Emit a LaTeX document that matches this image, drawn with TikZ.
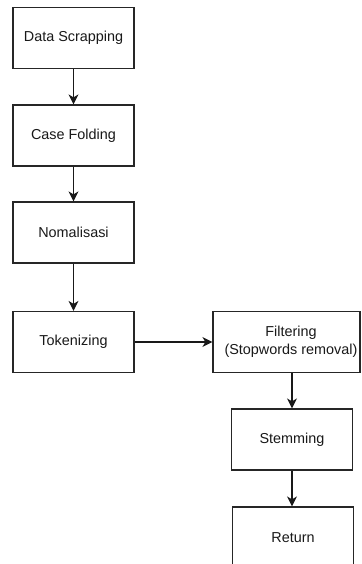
\documentclass[tikz,border=0pt]{standalone}
\usepackage{fontspec}
\setmainfont{Liberation Sans}
\usetikzlibrary{arrows.meta}
\begin{document}
\begin{tikzpicture}[x=1pt,y=-1pt,
  stepbox/.style={draw=black!85, line width=1.2pt, fill=white, minimum width=121pt, minimum height=61pt,
    inner sep=0pt, align=center, font=\fontsize{14.4}{17.5}\selectfont, text=black!90},
  flow/.style={draw=black!90, line width=1.2pt, -{Stealth[length=10pt,width=10pt,inset=3pt]}}]
\clip (0,0) rectangle (361,564);
\fill[white] (0,0) rectangle (361,564);
\node[stepbox] (ds) at (73.5,38) {Data Scrapping};
\node[stepbox] (cf) at (73.5,135.5) {Case Folding};
\node[stepbox] (nm) at (73.5,232.5) {Nomalisasi};
\node[stepbox] (tk) at (73.5,342) {Tokenizing};
\node[stepbox, minimum width=147pt] (ft) at (286.5,342) {\hspace*{9pt}Filtering\\\hspace*{9pt}(Stopwords removal)};
\node[stepbox] (st) at (292,439.5) {Stemming};
\node[stepbox] (rt) at (293,537.5) {Return};
\draw[flow] (ds) -- (cf);
\draw[flow] (cf) -- (nm);
\draw[flow] (nm) -- (tk);
\draw[flow] (tk) -- (ft);
\draw[flow] (ft.south -| st.north) -- (st.north);
\draw[flow] (st.south) -- (st.south |- rt.north);
\end{tikzpicture}
\end{document}
